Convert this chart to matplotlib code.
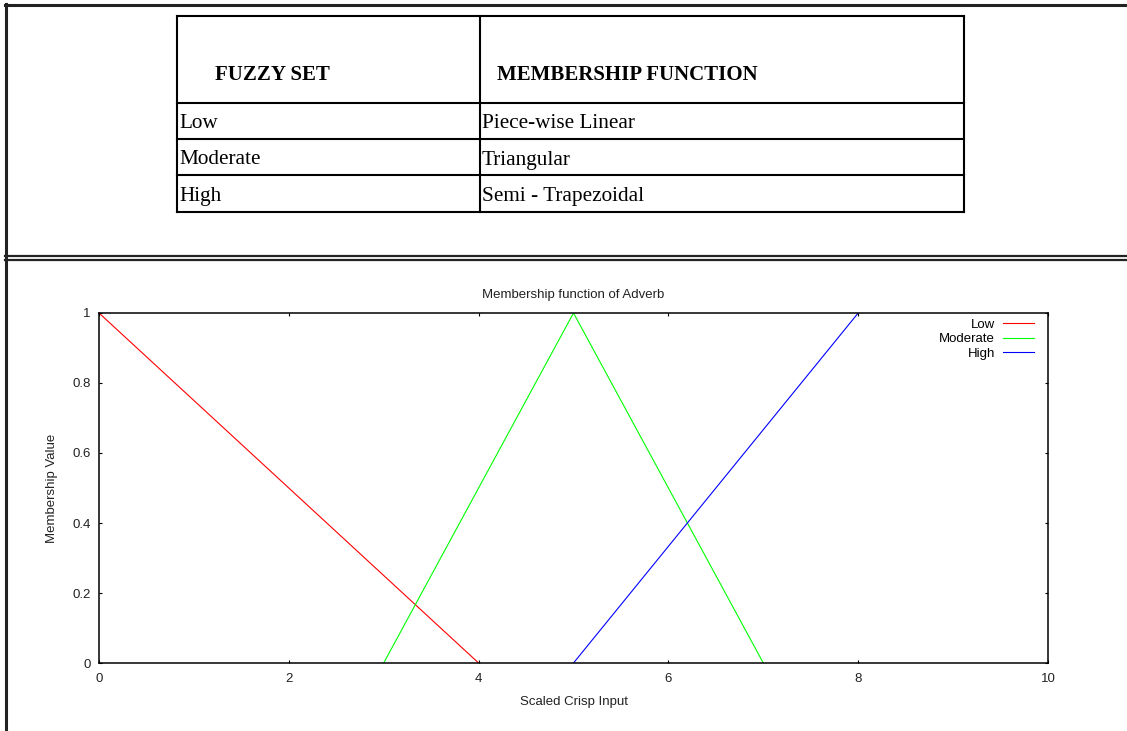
import matplotlib
matplotlib.use('Agg')
from matplotlib import pyplot as plt
from matplotlib.lines import Line2D

# table contents
fuzzy_sets = ['Low', 'Moderate', 'High']
membership_types = ['Piece-wise Linear', 'Triangular', 'Semi - Trapezoidal']
header = ['FUZZY SET', 'MEMBERSHIP FUNCTION']

# membership function break points
low_x = [0, 4]
low_y = [1, 0]
moderate_x = [3, 5, 7]
moderate_y = [0, 1, 0]
high_x = [5, 8]
high_y = [0, 1]

x_ticks = [0, 2, 4, 6, 8, 10]
y_ticks = [0, 0.2, 0.4, 0.6, 0.8, 1]
y_tick_labels = ['0', '0.2', '0.4', '0.6', '0.8', '1']

W, H = 1127, 731


def fx(x):
    return x / W


def fy(y):
    return 1 - y / H


def hline(fig, x0, x1, y, lw=1.5, color='black'):
    fig.add_artist(Line2D([fx(x0), fx(x1)], [fy(y), fy(y)], color=color, lw=lw))


def vline(fig, x, y0, y1, lw=1.5, color='black'):
    fig.add_artist(Line2D([fx(x), fx(x)], [fy(y0), fy(y1)], color=color, lw=lw))


def draw_frame(fig):
    # outer page boxes
    hline(fig, 5, W, 5, lw=2.2, color='#222222')
    vline(fig, 6, 4, H, lw=2.2, color='#222222')
    hline(fig, 5, W, 256, lw=1.6, color='#222222')
    hline(fig, 5, W, 259.5, lw=1.6, color='#222222')


def draw_table(fig):
    left, mid, right = 177, 480, 964
    rows = [16, 103, 139, 175, 212]
    for y in rows:
        hline(fig, left, right, y)
    for x in [left, mid, right]:
        vline(fig, x, rows[0], rows[-1])

    serif = 'Liberation Serif'
    fig.text(fx(215), fy(75), header[0], fontsize=15, fontweight='bold',
             family=serif, va='center', ha='left')
    fig.text(fx(497), fy(75), header[1], fontsize=15, fontweight='bold',
             family=serif, va='center', ha='left')
    for i in range(len(fuzzy_sets)):
        yc = (rows[i + 1] + rows[i + 2]) / 2 + 3
        fig.text(fx(179), fy(yc), fuzzy_sets[i], fontsize=15.3,
                 family=serif, va='center', ha='left')
        fig.text(fx(482), fy(yc), membership_types[i], fontsize=15.3,
                 family=serif, va='center', ha='left')


def draw_plot(fig):
    ax = fig.add_axes([fx(99), fy(663), fx(1048) - fx(99), (663 - 313) / H])
    ax.plot(low_x, low_y, color='#ff0000', lw=0.8, label='Low')
    ax.plot(moderate_x, moderate_y, color='#00ff00', lw=0.8, label='Moderate')
    ax.plot(high_x, high_y, color='#0000ff', lw=0.8, label='High')
    ax.set_xlim(0, 10)
    ax.set_ylim(0, 1)
    ax.set_xticks(x_ticks)
    ax.set_yticks(y_ticks)
    ax.set_yticklabels(y_tick_labels)
    ax.tick_params(direction='in', length=2.5, width=0.8, top=True, right=True,
                   labelsize=9.5, labelcolor='#222222')
    ax.tick_params(axis='x', pad=7)
    ax.tick_params(axis='y', pad=6)
    for s in ax.spines.values():
        s.set_linewidth(1.1)
    ax.set_title('Membership function of Adverb', fontsize=9.5, color='#222222', pad=10.5)
    ax.set_xlabel('Scaled Crisp Input', fontsize=9.5, color='#222222', labelpad=8)
    ax.set_ylabel('Membership Value', fontsize=9.5, color='#222222', labelpad=10)
    ax.legend(loc='upper right', bbox_to_anchor=(935 / 949, 1 - 5.5 / 350),
              frameon=False, markerfirst=False, fontsize=9.5,
              handlelength=2.35, handletextpad=0.6, labelspacing=0.17,
              borderaxespad=0, borderpad=0)


def main():
    plt.rcParams['font.family'] = ['Liberation Sans', 'DejaVu Sans']
    fig = plt.figure(figsize=(W / 100, H / 100), dpi=100)
    draw_frame(fig)
    draw_table(fig)
    draw_plot(fig)
    fig.savefig('out.png', dpi=100)


if __name__ == '__main__':
    main()
